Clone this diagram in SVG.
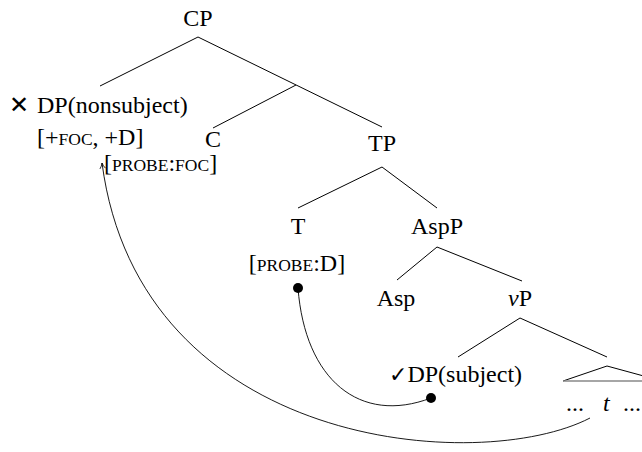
<svg xmlns="http://www.w3.org/2000/svg" width="642" height="452" viewBox="0 0 642 452">
<style>
text{font-family:"Liberation Serif","Times New Roman",serif;font-size:24px;fill:#000}
.m{text-anchor:middle}
.sc{font-size:17.5px}
.sym{font-family:"DejaVu Sans",sans-serif}
.br{stroke:#000;stroke-width:1;fill:none}
.cv{stroke:#000;stroke-width:0.9;fill:none}
</style>
<defs>
<marker id="arr" viewBox="0 0 10 10" refX="9" refY="5" markerWidth="8" markerHeight="8" markerUnits="userSpaceOnUse" orient="auto">
<path d="M2,1.5 Q5,4 9,5 Q5,6 2,8.5" fill="none" stroke="#000" stroke-width="1"/>
</marker>
</defs>
<rect width="642" height="452" fill="#fff"/>
<g id="connectors">
<path class="br" d="M198,37 L100,86 M198,37 L382,127 M296,85 L213,128"/>
<path class="br" d="M382,167 L298,208 M382,167 L437,208"/>
<path class="br" d="M437,247 L397,280 M437,247 L522,281"/>
<path class="br" d="M520,318 L458,357 M520,318 L607,357"/>
<path class="cv" d="M298,288 C305,380 360,425 431,398"/>
<circle cx="298" cy="288" r="5" fill="#000"/>
<circle cx="431" cy="398" r="5" fill="#000"/>
<path class="cv" d="M590,418 C480,475 140,450 102,163" marker-end="url(#arr)"/>
</g>
<g id="CP"><text class="m" x="198" y="26">CP</text></g>
<g id="DPnonsubj"><text class="sym" x="9" y="113" font-size="18">✕</text><text x="37" y="113">DP(nonsubject)</text><text x="37" y="145">[+<tspan class="sc">FOC</tspan>, +D]</text></g>
<g id="C"><text class="m" x="213" y="147">C</text><text x="104" y="171" font-size="23">[<tspan class="sc">PROBE</tspan>:<tspan class="sc">FOC</tspan>]</text></g>
<g id="TP"><text class="m" x="382" y="151">TP</text></g>
<g id="T"><text class="m" x="298" y="234">T</text><text class="m" x="297" y="271">[<tspan class="sc">PROBE</tspan>:D]</text></g>
<g id="AspP"><text class="m" x="437" y="234">AspP</text></g>
<g id="Asp"><text class="m" x="396" y="306">Asp</text></g>
<g id="vP"><text class="m" x="520" y="306"><tspan font-style="italic">v</tspan>P</text></g>
<g id="DPsubj"><text x="389" y="382"><tspan class="sym" font-size="22">✓</tspan>DP(subject)</text></g>
<g id="tri"><path d="M563,381 L607,366 L651,378" fill="none" stroke="#000" stroke-width="1"/><path d="M563,381 L642,381" stroke="#888" stroke-width="1.5"/><text x="566" y="411" font-size="20">...</text><text x="603" y="411" font-style="italic">t</text><text x="623" y="411" font-size="20">...</text></g>
</svg>
